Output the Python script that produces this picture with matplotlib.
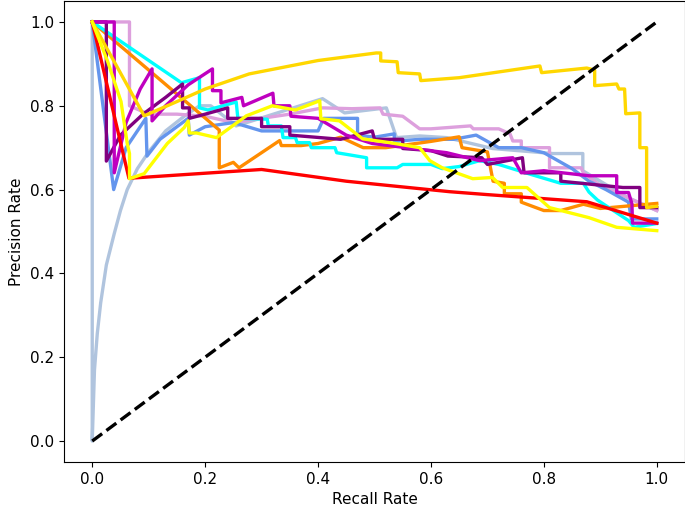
import matplotlib
matplotlib.use('Agg')
import matplotlib.pyplot as plt

plt.rcParams['font.size'] = 11

# precision / recall points, one curve per model
lsb_x = [0, 0, 0.004, 0.009, 0.015, 0.025, 0.039, 0.05, 0.062, 0.08, 0.10, 0.13, 0.163, 0.19, 0.21, 0.255, 0.408, 0.447, 0.521, 0.539, 0.58, 0.628, 0.709, 0.816, 0.869, 0.869, 0.90, 0.95, 1.0]
lsb_y = [1.0, 0, 0.17, 0.257, 0.33, 0.42, 0.495, 0.55, 0.60, 0.65, 0.69, 0.74, 0.775, 0.80, 0.80, 0.752, 0.817, 0.783, 0.795, 0.724, 0.728, 0.724, 0.698, 0.686, 0.686, 0.645, 0.62, 0.58, 0.55]

plum_x = [0, 0.066, 0.066, 0.1, 0.15, 0.2, 0.25, 0.3, 0.35, 0.408, 0.46, 0.51, 0.515, 0.55, 0.58, 0.60, 0.67, 0.675, 0.72, 0.74, 0.745, 0.76, 0.76, 0.81, 0.81, 0.866, 0.87, 0.9, 0.95, 1.0]
plum_y = [1.0, 1.0, 0.80, 0.78, 0.78, 0.775, 0.76, 0.77, 0.78, 0.795, 0.793, 0.795, 0.78, 0.775, 0.745, 0.745, 0.752, 0.745, 0.745, 0.733, 0.716, 0.716, 0.70, 0.70, 0.652, 0.652, 0.64, 0.61, 0.58, 0.55]

cfb_x = [0, 0.038, 0.06, 0.095, 0.097, 0.12, 0.17, 0.172, 0.2, 0.25, 0.3, 0.4, 0.41, 0.47, 0.47, 0.50, 0.535, 0.535, 0.58, 0.64, 0.68, 0.72, 0.76, 0.80, 0.85, 0.88, 0.91, 0.95, 0.955, 1.0]
cfb_y = [1.0, 0.60, 0.70, 0.77, 0.68, 0.72, 0.77, 0.73, 0.75, 0.76, 0.74, 0.74, 0.77, 0.77, 0.73, 0.725, 0.733, 0.715, 0.72, 0.72, 0.73, 0.70, 0.70, 0.688, 0.65, 0.62, 0.60, 0.57, 0.53, 0.53]

orange_x = [0, 0.225, 0.225, 0.25, 0.26, 0.332, 0.335, 0.37, 0.40, 0.44, 0.48, 0.52, 0.60, 0.65, 0.655, 0.70, 0.71, 0.73, 0.73, 0.76, 0.76, 0.80, 0.83, 0.87, 0.90, 1.0]
orange_y = [1.0, 0.742, 0.652, 0.665, 0.652, 0.717, 0.705, 0.705, 0.71, 0.725, 0.70, 0.70, 0.715, 0.726, 0.70, 0.69, 0.62, 0.615, 0.59, 0.59, 0.57, 0.55, 0.55, 0.565, 0.555, 0.567]

cyan_x = [0, 0.158, 0.19, 0.19, 0.205, 0.255, 0.258, 0.31, 0.312, 0.335, 0.338, 0.36, 0.363, 0.385, 0.388, 0.43, 0.433, 0.486, 0.486, 0.54, 0.55, 0.6, 0.62, 0.65, 0.686, 0.72, 0.78, 0.83, 0.87, 0.88, 0.895, 0.95, 0.96, 1.0]
cyan_y = [1.0, 0.855, 0.867, 0.795, 0.79, 0.809, 0.77, 0.768, 0.752, 0.752, 0.724, 0.724, 0.712, 0.712, 0.70, 0.70, 0.688, 0.676, 0.652, 0.652, 0.66, 0.66, 0.65, 0.655, 0.669, 0.66, 0.635, 0.615, 0.615, 0.594, 0.575, 0.526, 0.51, 0.519]

purple_x = [0, 0.025, 0.025, 0.05, 0.09, 0.13, 0.16, 0.16, 0.172, 0.172, 0.2, 0.24, 0.24, 0.3, 0.3, 0.35, 0.35, 0.44, 0.496, 0.50, 0.55, 0.55, 0.6, 0.63, 0.69, 0.70, 0.762, 0.765, 0.83, 0.83, 0.94, 0.97, 0.97, 1.0]
purple_y = [1.0, 1.0, 0.668, 0.73, 0.78, 0.82, 0.852, 0.795, 0.795, 0.77, 0.78, 0.795, 0.77, 0.77, 0.75, 0.75, 0.73, 0.72, 0.74, 0.72, 0.72, 0.698, 0.693, 0.68, 0.676, 0.66, 0.676, 0.64, 0.64, 0.62, 0.605, 0.605, 0.557, 0.557]

mag_x = [0, 0.039, 0.039, 0.06, 0.085, 0.106, 0.106, 0.13, 0.17, 0.213, 0.213, 0.228, 0.228, 0.265, 0.268, 0.32, 0.322, 0.35, 0.352, 0.40, 0.45, 0.496, 0.628, 0.686, 0.745, 0.76, 0.80, 0.88, 0.929, 0.929, 0.95, 0.956, 0.957, 1.0]
mag_y = [1.0, 1.0, 0.64, 0.76, 0.84, 0.888, 0.764, 0.80, 0.85, 0.888, 0.836, 0.836, 0.807, 0.82, 0.80, 0.83, 0.80, 0.80, 0.775, 0.77, 0.73, 0.71, 0.688, 0.669, 0.676, 0.64, 0.645, 0.633, 0.633, 0.593, 0.593, 0.566, 0.52, 0.52]

red_x = [0, 0.065, 0.30, 0.45, 0.633, 0.70, 0.876, 1.0]
red_y = [1.0, 0.627, 0.648, 0.62, 0.595, 0.588, 0.571, 0.52]

gold_x = [0, 0.092, 0.15, 0.2, 0.278, 0.4, 0.503, 0.511, 0.511, 0.54, 0.542, 0.58, 0.582, 0.65, 0.793, 0.796, 0.876, 0.89, 0.89, 0.929, 0.933, 0.943, 0.945, 0.97, 0.97, 0.982, 0.982, 1.0]
gold_y = [1.0, 0.776, 0.81, 0.84, 0.876, 0.908, 0.926, 0.926, 0.907, 0.905, 0.879, 0.876, 0.86, 0.867, 0.895, 0.879, 0.89, 0.885, 0.848, 0.852, 0.84, 0.84, 0.781, 0.783, 0.70, 0.70, 0.557, 0.56]

yellow_x = [0, 0.027, 0.051, 0.062, 0.066, 0.066, 0.092, 0.133, 0.163, 0.17, 0.172, 0.185, 0.22, 0.273, 0.319, 0.36, 0.403, 0.405, 0.438, 0.479, 0.527, 0.58, 0.598, 0.62, 0.674, 0.709, 0.727, 0.77, 0.81, 0.88, 0.929, 1.0]
yellow_y = [1.0, 0.907, 0.81, 0.71, 0.686, 0.626, 0.638, 0.71, 0.748, 0.764, 0.735, 0.735, 0.724, 0.776, 0.80, 0.79, 0.812, 0.769, 0.764, 0.721, 0.712, 0.70, 0.669, 0.652, 0.626, 0.629, 0.605, 0.605, 0.557, 0.533, 0.51, 0.502]

curves = [
    (lsb_x, lsb_y, 'lightsteelblue'),
    (plum_x, plum_y, 'plum'),
    (cfb_x, cfb_y, 'cornflowerblue'),
    (orange_x, orange_y, 'darkorange'),
    (cyan_x, cyan_y, 'aqua'),
    (purple_x, purple_y, 'purple'),
    (mag_x, mag_y, 'm'),
    (red_x, red_y, 'red'),
    (gold_x, gold_y, 'gold'),
    (yellow_x, yellow_y, 'yellow'),
]

fig = plt.figure(figsize=(6.85, 5.12), dpi=100)
ax = fig.add_axes([64/685, 50/512, 621/685, 461/512])

for xs, ys, c in curves:
    ax.plot(xs, ys, color=c, lw=2.4)

ax.plot([0, 1], [0, 1], 'k--', lw=2.4)

ax.set_xlim(-0.05, 1.05)
ax.set_ylim(-0.05, 1.05)
ax.set_xlabel('Recall Rate')
ax.set_ylabel('Precision Rate')

fig.savefig('out.png', dpi=100)
